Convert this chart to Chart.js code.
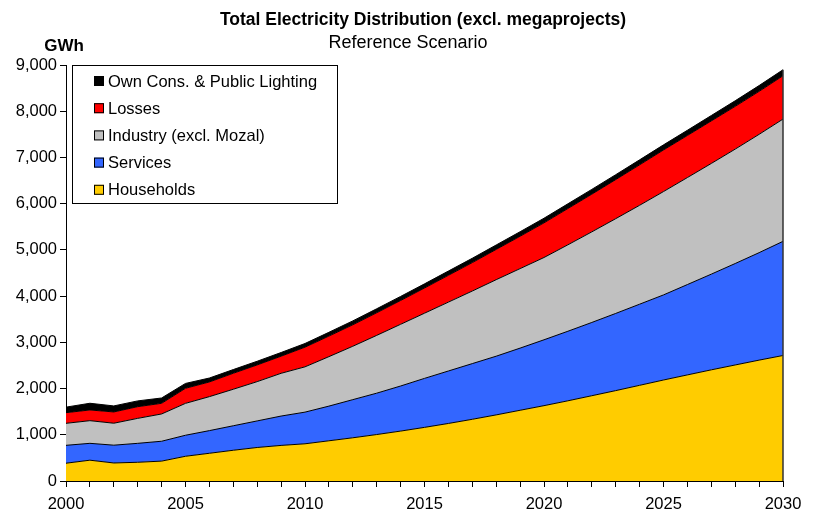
<!DOCTYPE html>
<html>
<head>
<meta charset="utf-8">
<script src="https://cdn.jsdelivr.net/npm/chart.js@4.4.1/dist/chart.umd.min.js"></script>
<style>
  html, body { margin: 0; padding: 0; background: #fff; }
  #wrap { width: 816px; height: 513px; }
</style>
</head>
<body>
<div id="wrap"><canvas id="chart" width="816" height="513"></canvas></div>
<script>
/* ---------- data (GWh) ---------- */
const years = [2000, 2001, 2002, 2003, 2004, 2005, 2006, 2007, 2008, 2009,
               2010, 2011, 2012, 2013, 2014, 2015, 2016, 2017, 2018, 2019,
               2020, 2021, 2022, 2023, 2024, 2025, 2026, 2027, 2028, 2029, 2030];

const households = [385, 450, 390, 405, 430, 535, 600, 665, 725, 770,
                    805, 870, 935, 1005, 1080, 1160, 1245, 1335, 1430, 1530,
                    1630, 1735, 1845, 1955, 2070, 2185, 2295, 2405, 2510, 2615, 2715];

const services = [387, 365, 385, 410, 430, 455, 490, 530, 575, 635,
                  685, 750, 825, 895, 975, 1060, 1135, 1205, 1270, 1345,
                  1425, 1505, 1585, 1670, 1755, 1841, 1955, 2070, 2195, 2325, 2470];

const industry = [476, 490, 475, 540, 590, 690, 735, 790, 850, 925,
                  980, 1070, 1155, 1250, 1335, 1410, 1490, 1570, 1655, 1720,
                  1780, 1870, 1960, 2050, 2140, 2236, 2315, 2395, 2475, 2560, 2645];

const losses = [230, 232, 244, 253, 231, 326, 318, 346, 361, 370,
                425, 445, 465, 490, 515, 545, 580, 615, 655, 700,
                750, 785, 815, 845, 875, 900, 910, 920, 925, 930, 937];

const ownCons = [120, 145, 130, 125, 115, 105, 85, 80, 80, 80,
                 80, 82, 84, 86, 88, 90, 92, 94, 96, 98,
                 100, 102, 104, 106, 108, 110, 113, 117, 121, 125, 130];

const yTicks = [0, 1000, 2000, 3000, 4000, 5000, 6000, 7000, 8000, 9000];

const FONT = '"Liberation Sans", Arial, Helvetica, sans-serif';
Chart.defaults.font.family = FONT;
Chart.defaults.color = '#000';

function area(label, data, color, fill) {
    return {
        label: label,
        data: data,
        backgroundColor: color,
        borderColor: '#000',
        borderWidth: 1,
        pointRadius: 0,
        pointHoverRadius: 0,
        tension: 0,
        fill: fill
    };
}

/* titles, unit label, boxed legend */
const decor = {
    id: 'decor',
    afterDraw(chart) {
        const ctx = chart.ctx;
        ctx.save();
        ctx.fillStyle = '#000';
        ctx.textAlign = 'center';
        ctx.textBaseline = 'middle';
        ctx.font = 'bold 17.5px ' + FONT;
        ctx.fillText('Total Electricity Distribution (excl. megaprojects)', 423, 20);
        ctx.font = '18px ' + FONT;
        ctx.fillText('Reference Scenario', 408, 43);
        ctx.font = 'bold 17px ' + FONT;
        ctx.fillText('GWh', 64, 46);

        // dark edge on the right end of the stack
        const xs = chart.scales.x, ys = chart.scales.y;
        const last = years.length - 1;
        const total = households[last] + services[last] + industry[last] + losses[last] + ownCons[last];
        ctx.strokeStyle = '#333';
        ctx.lineWidth = 1.5;
        ctx.beginPath();
        ctx.moveTo(xs.getPixelForValue(last), ys.getPixelForValue(0));
        ctx.lineTo(xs.getPixelForValue(last), ys.getPixelForValue(total));
        ctx.stroke();

        // legend
        ctx.fillStyle = '#fff';
        ctx.fillRect(72, 65, 266, 139);
        ctx.strokeStyle = '#000';
        ctx.lineWidth = 1;
        ctx.strokeRect(72.5, 65.5, 265, 138);
        ctx.textAlign = 'left';
        ctx.font = '16.5px ' + FONT;
        const items = chart.data.datasets.slice().reverse();
        items.forEach((ds, i) => {
            const cy = 81 + i * 27.2;
            ctx.fillStyle = ds.backgroundColor;
            ctx.fillRect(94, cy - 5, 10, 10);
            ctx.strokeStyle = '#000';
            ctx.strokeRect(94.5, cy - 4.5, 9, 9);
            ctx.fillStyle = '#000';
            ctx.fillText(ds.label, 108, cy + 1);
        });
        ctx.restore();
    }
};

new Chart(document.getElementById('chart'), {
    type: 'line',
    data: {
        labels: years,
        datasets: [
            area('Households', households, '#FFCC00', 'origin'),
            area('Services', services, '#3366FF', '-1'),
            area('Industry (excl. Mozal)', industry, '#C0C0C0', '-1'),
            area('Losses', losses, '#FF0000', '-1'),
            area('Own Cons. & Public Lighting', ownCons, '#000000', '-1')
        ]
    },
    options: {
        responsive: false,
        animation: false,
        devicePixelRatio: 1,
        layout: { padding: { top: 65, right: 33, left: 0, bottom: 0 } },
        plugins: {
            legend: { display: false },
            title: { display: false },
            tooltip: { enabled: false }
        },
        scales: {
            x: {
                type: 'category',
                offset: false,
                grid: { drawOnChartArea: false, drawTicks: true, tickLength: 6, color: '#000', lineWidth: 1 },
                border: { display: true, color: '#000', width: 1 },
                ticks: {
                    autoSkip: false,
                    maxRotation: 0,
                    padding: 8,
                    font: { size: 16.5 },
                    callback: function (value) {
                        const y = this.getLabelForValue(value);
                        return y % 5 === 0 ? String(y) : '';
                    }
                },
                afterFit: s => { s.height = 32; }
            },
            y: {
                stacked: true,
                min: 0,
                max: 9000,
                afterBuildTicks: s => { s.ticks = yTicks.map(v => ({ value: v })); },
                grid: { drawOnChartArea: false, drawTicks: true, tickLength: 6, color: '#000', lineWidth: 1 },
                border: { display: true, color: '#000', width: 1 },
                ticks: {
                    padding: 3,
                    font: { size: 16.5 },
                    callback: v => v.toLocaleString('en-US')
                },
                afterFit: s => { s.width = 66; }
            }
        }
    },
    plugins: [decor]
});
</script>
</body>
</html>
